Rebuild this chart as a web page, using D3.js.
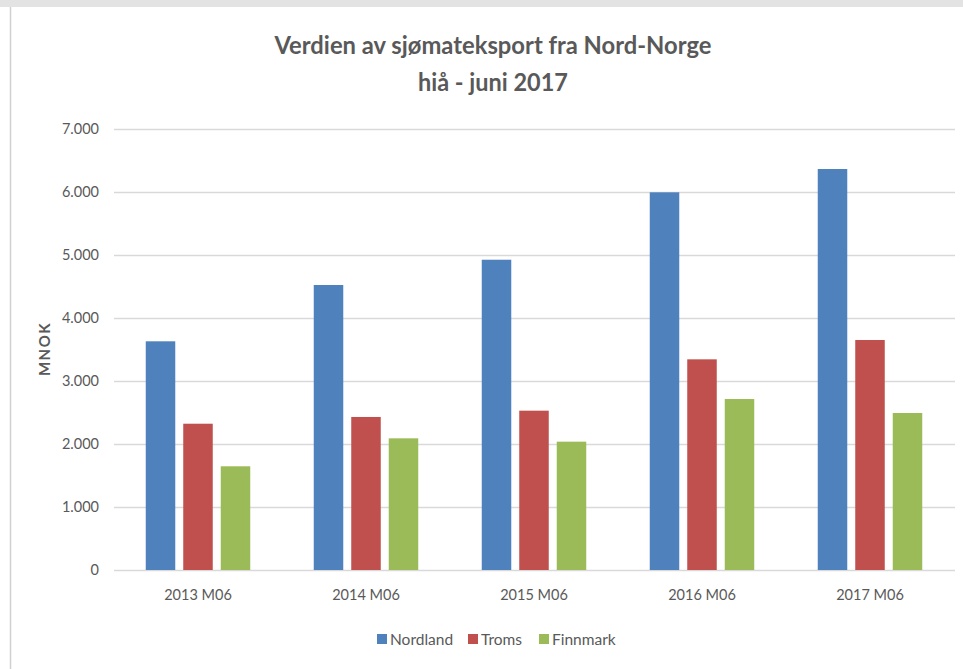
<!DOCTYPE html>
<html>
<head>
<meta charset="utf-8">
<script src="https://cdn.jsdelivr.net/npm/d3@7"></script>
<style>
  html, body { margin: 0; padding: 0; background: #fff; }
  svg { display: block; }
  text { font-family: Lato, "Open Sans", sans-serif; fill: #595959; }
</style>
</head>
<body>
<svg id="chart" width="963" height="669"></svg>
<script>
// Eksportverdi per fylke, januar–juni, i millioner kroner
const categories = ["2013 M06", "2014 M06", "2015 M06", "2016 M06", "2017 M06"];
const seriesNames = ["Nordland", "Troms", "Finnmark"];
const nordland = [3630, 4524, 4925, 5995, 6365];
const troms    = [2322, 2429, 2529, 3344, 3651];
const finnmark = [1646, 2090, 2037, 2714, 2492];
const yTicks = [0, 1000, 2000, 3000, 4000, 5000, 6000, 7000];
const titleLines = ["Verdien av sjømateksport fra Nord-Norge", "hiå - juni 2017"];
const yTitle = "MNOK";
const colors = ["#4F81BD", "#C0504D", "#9BBB59"];

const values = [nordland, troms, finnmark];

const svg = d3.select("#chart");
const W = 963, H = 669;

// Ramme
svg.append("rect").attr("x", 0).attr("y", 0).attr("width", W).attr("height", 7).attr("fill", "#e3e3e3");
svg.append("line").attr("x1", 10.5).attr("x2", 10.5).attr("y1", 7).attr("y2", H)
  .attr("stroke", "#d0d0d0").attr("stroke-width", 1.5);

const plot = { left: 114, right: 954, top: 129, bottom: 570 };

const x = d3.scaleBand().domain(categories).range([plot.left, plot.right]).paddingInner(0).paddingOuter(0);
const xInner = d3.scaleBand().domain(seriesNames).range([-56, 56]).paddingInner(0.213).paddingOuter(0.1);
const y = d3.scaleLinear().domain([0, 7000]).range([plot.bottom, plot.top]);

const no = d3.formatLocale({ decimal: ",", thousands: ".", grouping: [3], currency: ["", " kr"] });
const fmt = no.format(",");

// Rutenett og verdiakse
const yAxis = d3.axisLeft(y).tickValues(yTicks).tickFormat(fmt)
  .tickSize(-(plot.right + 1 - plot.left)).tickPadding(15);
const gy = svg.append("g").attr("transform", `translate(${plot.left},0)`).call(yAxis);
gy.select(".domain").remove();
gy.selectAll(".tick line").attr("stroke", "#d9d9d9").attr("stroke-width", 1.3);
gy.selectAll(".tick text").attr("font-size", 14.5).attr("fill", "#595959")
  .style("font-family", "Lato, sans-serif").attr("dy", "0.34em");

// Stolper
seriesNames.forEach((name, si) => {
  svg.append("g").selectAll("rect")
    .data(categories.map((c, i) => ({ c, v: values[si][i] })))
    .join("rect")
    .attr("x", d => x(d.c) + x.bandwidth() / 2 + xInner(name))
    .attr("width", xInner.bandwidth())
    .attr("y", d => y(d.v))
    .attr("height", d => y(0) - y(d.v))
    .attr("fill", colors[si]);
});

// Kategoriakse
const xAxis = d3.axisBottom(x).tickSize(0).tickPadding(20);
const gx = svg.append("g").attr("transform", `translate(0,${plot.bottom})`).call(xAxis);
gx.select(".domain").remove();
gx.selectAll(".tick text").attr("font-size", 14.5).attr("fill", "#595959")
  .style("font-family", "Lato, sans-serif");

// Tittel
const title = svg.append("g");
title.selectAll("text").data(titleLines).join("text")
  .attr("x", 493)
  .attr("y", (d, i) => 54 + i * 37)
  .attr("text-anchor", "middle")
  .attr("font-size", 24)
  .attr("font-weight", "bold")
  .attr("fill", "#595959")
  .attr("textLength", (d, i) => i === 0 ? 437 : 150)
  .attr("lengthAdjust", "spacingAndGlyphs")
  .text(d => d);

// Aksetittel
svg.append("text")
  .attr("transform", "translate(50,349) rotate(-90)")
  .attr("text-anchor", "middle")
  .attr("font-size", 15)
  .attr("font-weight", "bold")
  .attr("letter-spacing", 1.5)
  .attr("fill", "#595959")
  .text(yTitle);

// Tegnforklaring
const legendX = [377, 468, 539];
const legend = svg.append("g");
seriesNames.forEach((name, i) => {
  legend.append("rect").attr("x", legendX[i]).attr("y", 634).attr("width", 10).attr("height", 10)
    .attr("fill", colors[i]);
  legend.append("text").attr("x", legendX[i] + 13).attr("y", 644.5)
    .attr("font-size", 15.5).attr("fill", "#595959").text(name);
});
</script>
</body>
</html>
